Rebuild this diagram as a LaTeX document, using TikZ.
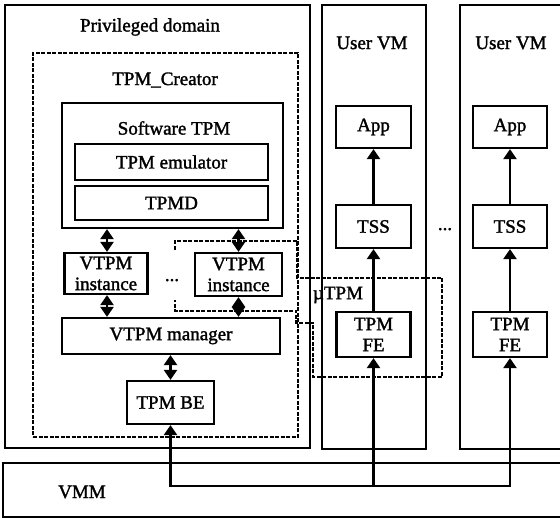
\documentclass[tikz,border=0pt]{standalone}
\usepackage{fontspec}
\setmainfont{Liberation Serif}[FakeBold=1.6]
\usetikzlibrary{arrows.meta}

\tikzset{
  txt/.style={font=\fontsize{19}{21}\selectfont, inner sep=0pt},
  box/.style={txt, draw, line width=2.2pt, align=center},
  frame/.style={draw, line width=2.2pt, inner sep=0pt},
  dframe/.style={draw, line width=2pt, inner sep=0pt, dash pattern=on 4pt off 1.5pt},
  dline/.style={line width=2pt, dash pattern=on 4pt off 1.5pt},
  link/.style={line width=2.3pt},
  arr/.style={link, -{Triangle[length=10pt,width=13pt]}},
  dbl/.style={link, {Triangle[length=10pt,width=13pt]}-{Triangle[length=10pt,width=13pt]}}
}

\begin{document}
\begin{tikzpicture}[x=1pt,y=-1pt]
\useasboundingbox (0,0) rectangle (560,518);
\clip (0,0) rectangle (560,518);

% ---- privileged domain ----
\node[frame, minimum width=305pt, minimum height=443pt] (priv) at (157.5,226.5) {};
\node[txt] (privlbl) at (150,27) {Privileged domain};

\node[dframe, minimum width=265pt, minimum height=384pt] (creator) at (165.5,245) {};
\node[txt] (creatorlbl) at (165,80) {TPM\_Creator};

\node[frame, minimum width=221pt, minimum height=125pt] (swtpm) at (172.5,165.5) {};
\node[txt] (swtpmlbl) at (174,128) {Software TPM};
\node[box, minimum width=193pt, minimum height=36pt] (emu) at (171.5,162) {TPM emulator};
\node[box, minimum width=193pt, minimum height=34pt] (tpmd) at (171.5,203) {TPMD};

\node[box, minimum width=83pt, minimum height=41pt] (vi1) at (106,273.5) {VTPM\\instance};
\node[box, minimum width=87pt, minimum height=43pt] (vi2) at (238.5,274.5) {VTPM\\instance};
\node[txt, anchor=base] (dotsA) at (172,281) {...};

\node[box, minimum width=218pt, minimum height=36pt] (mgr) at (171,336) {VTPM manager};
\node[box, minimum width=87pt, minimum height=43pt] (be) at (170.5,402.5) {TPM BE};

% links inside the privileged domain
\draw[dbl] (vi1.north -| 107,0) -- (swtpm.south -| 107,0);
\draw[dbl] (vi2.north) -- (vi2.north |- swtpm.south);
\draw[dbl] (vi1.south -| 107,0) -- (mgr.north -| 107,0);
\draw[dbl] (vi2.south) -- (vi2.south |- mgr.north);
\draw[dbl] (be.north) -- (be.north |- mgr.south);

% ---- user VMs ----
\node[frame, minimum width=104pt, minimum height=444pt] (vm1) at (374,227) {};
\node[txt] (vm1lbl) at (372,43) {User VM};
\node[frame, minimum width=160pt, minimum height=444pt] (vm2) at (540,227) {};
\node[txt] (vm2lbl) at (511,43) {User VM};
\node[txt, anchor=base] (dotsB) at (445,230) {...};

\node[box, minimum width=75pt, minimum height=42pt] (app1) at (373.5,127) {App};
\node[box, minimum width=75pt, minimum height=43pt] (tss1) at (373.5,226.5) {TSS};
\node[box, minimum width=74pt, minimum height=45pt] (fe1) at (373.5,334.5) {TPM\\FE};

\node[box, minimum width=74pt, minimum height=42pt] (app2) at (510,127) {App};
\node[box, minimum width=74pt, minimum height=43pt] (tss2) at (510,226.5) {TSS};
\node[box, minimum width=74pt, minimum height=45pt] (fe2) at (510,334.5) {TPM\\FE};

\draw[arr] (tss1.north) -- (app1.south);
\draw[arr] (fe1.north) -- (tss1.south);
\draw[arr] (tss2.north) -- (app2.south);
\draw[arr] (fe2.north) -- (tss2.south);

% ---- uTPM region ----
\draw[dline] (175,250) -- (175,241) -- (297,241) -- (297,278) -- (442,278)
  -- (442,377) -- (313,377) -- (313,323) -- (296,323) -- (296,311)
  -- (175,311) -- (175,300);
\node[txt] (utpm) at (338,295) {µTPM};

% ---- VMM ----
\node[frame, minimum width=617pt, minimum height=54pt] (vmm) at (311.5,490) {};
\node[txt] (vmmlbl) at (82,492) {VMM};

% back-end / front-end channel through the VMM
\coordinate (busL) at (170.5,486);
\coordinate (busR) at (510,486);
\draw[dbl, line join=miter] (be.south) -- (busL) -- (busR) -- (fe2.south);
\draw[arr] (busL -| fe1.south) -- (fe1.south);
\end{tikzpicture}
\end{document}
